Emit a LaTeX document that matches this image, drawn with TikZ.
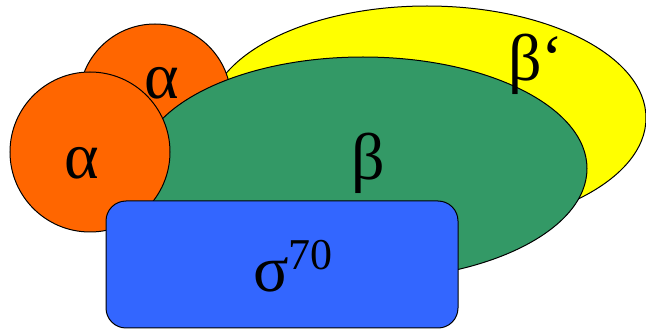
\documentclass[tikz,border=0pt]{standalone}
\usepackage{fontspec}
\setmainfont{Liberation Serif}
\usetikzlibrary{shapes.geometric}
\definecolor{orng}{HTML}{FF6600}
\definecolor{yell}{HTML}{FFFF00}
\definecolor{grn}{HTML}{339966}
\definecolor{blu}{HTML}{3366FF}
\tikzset{
  unit/.style={draw=black, line width=1pt, inner sep=0pt, outer sep=0pt},
  lbl/.style={font=\fontsize{66}{66}\selectfont, inner sep=0pt},
}
\begin{document}
\begin{tikzpicture}[x=1pt,y=-1pt]
\useasboundingbox (0,0) rectangle (646,331);
\node[unit, ellipse, fill=yell, minimum width=438pt, minimum height=224pt] (bp) at (427,118) {};
\node[unit, circle, fill=orng, minimum size=152pt] (a1) at (155,100) {};
\node[unit, ellipse, fill=grn, minimum width=448pt, minimum height=223pt] (b) at (363,168.5) {};
\node[unit, circle, fill=orng, minimum size=160pt] (a2) at (90,152) {};
\node[unit, rectangle, rounded corners=20pt, fill=blu, minimum width=352pt, minimum height=127pt] (s) at (282,264.5) {};
\node[lbl] (ta1) at (162,83) {α};
\node[lbl] (ta2) at (82,163) {α};
\node[lbl] (tb) at (368,163) {β};
\node[lbl] (tbp) at (536,64) {β‘};
\node[lbl, anchor=base west] (ts) at (253,292) {σ\raisebox{22pt}{\fontsize{44}{44}\selectfont 70}};
\end{tikzpicture}
\end{document}
